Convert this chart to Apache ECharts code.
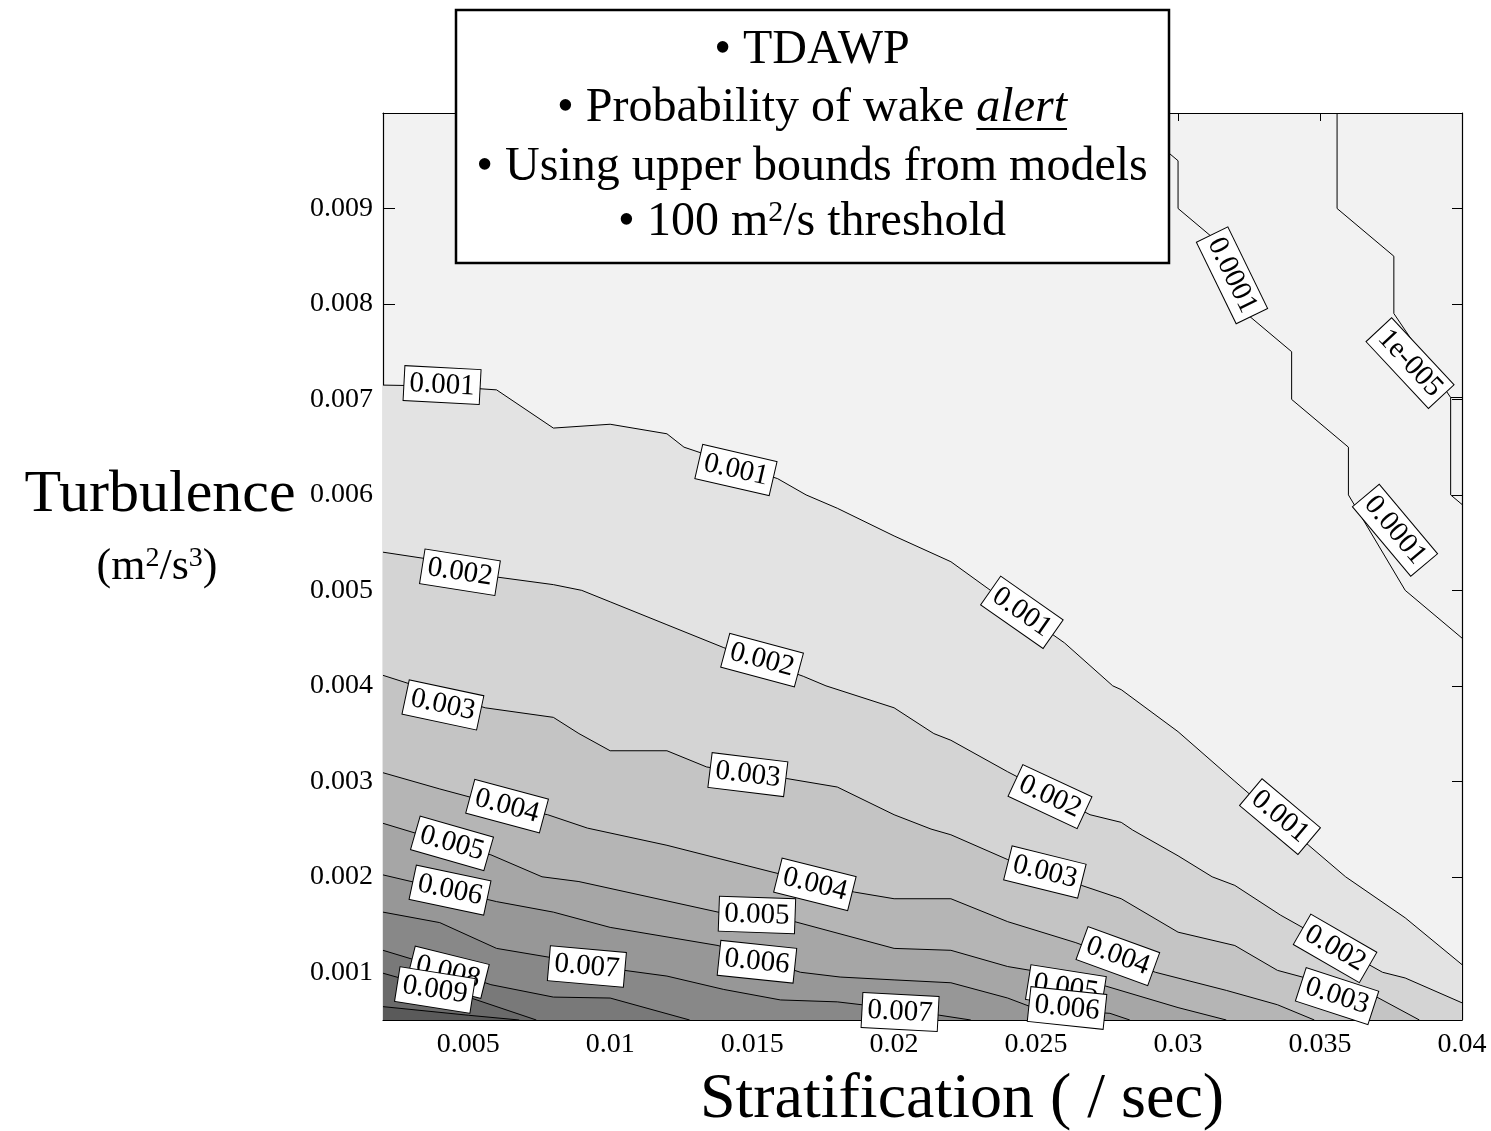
<!DOCTYPE html>
<html><head><meta charset="utf-8">
<script src="https://cdn.jsdelivr.net/npm/echarts@6/dist/echarts.min.js"></script>
<style>html,body{margin:0;padding:0;background:#fff}#c{width:1491px;height:1131px}</style>
</head><body><div id="c"></div>
<script>
// ---------- DATA ----------
const xRange = [0.002, 0.04];
const yRange = [0.0005, 0.01];
const xTickValues = [0.005, 0.01, 0.015, 0.02, 0.025, 0.03, 0.035, 0.04];
const xTickLabels = ['0.005', '0.01', '0.015', '0.02', '0.025', '0.03', '0.035', '0.04'];
const yTickValues = [0.001, 0.002, 0.003, 0.004, 0.005, 0.006, 0.007, 0.008, 0.009];
const yTickLabels = ['0.001', '0.002', '0.003', '0.004', '0.005', '0.006', '0.007', '0.008', '0.009'];

// contour lines [stratification, turbulence]
const contour_0_001 = [[0.002,0.00715],[0.004,0.00714],[0.006,0.0071],[0.008,0.0067],[0.010,0.00674],[0.012,0.00664],[0.0126,0.0065],[0.0159,0.00617],[0.0169,0.0060],[0.018,0.00586],[0.020,0.00557],[0.022,0.0053],[0.024,0.00487],[0.026,0.00445],[0.0277,0.0040],[0.028,0.00396],[0.030,0.00352],[0.032,0.0030],[0.0346,0.00233],[0.0359,0.0020],[0.038,0.00157],[0.040,0.00108]];
const contour_0_002 = [[0.002,0.0054],[0.004,0.00531],[0.006,0.00514],[0.008,0.00506],[0.009,0.0050],[0.010,0.00488],[0.012,0.00464],[0.014,0.0044],[0.0168,0.0041],[0.0176,0.0040],[0.020,0.00377],[0.0214,0.0035],[0.022,0.00343],[0.024,0.0031],[0.0269,0.00265],[0.028,0.00257],[0.0284,0.00249],[0.030,0.00222],[0.0312,0.0020],[0.032,0.00191],[0.0336,0.0016],[0.036,0.0012],[0.0372,0.001],[0.038,0.00094],[0.040,0.00068]];
const contour_0_003 = [[0.002,0.00411],[0.004,0.00392],[0.0056,0.00377],[0.008,0.00367],[0.0089,0.0035],[0.010,0.00332],[0.012,0.00332],[0.0134,0.00315],[0.0162,0.00303],[0.018,0.00294],[0.020,0.00265],[0.0213,0.0025],[0.022,0.00244],[0.024,0.00218],[0.0266,0.00191],[0.028,0.00177],[0.030,0.00142],[0.032,0.00128],[0.0335,0.00102],[0.037,0.00074],[0.0385,0.0005]];
const contour_0_004 = [[0.002,0.00309],[0.004,0.00292],[0.006,0.00276],[0.0078,0.00265],[0.0092,0.00251],[0.012,0.00233],[0.0157,0.00205],[0.0186,0.00184],[0.020,0.00177],[0.022,0.00177],[0.024,0.00153],[0.0264,0.00131],[0.0292,0.0010],[0.0317,0.00081],[0.0335,0.00066],[0.0348,0.0005]];
const contour_0_005 = [[0.002,0.00256],[0.004,0.00238],[0.0058,0.00223],[0.0076,0.0020],[0.0089,0.00195],[0.0138,0.00163],[0.0165,0.00153],[0.020,0.00125],[0.022,0.00123],[0.024,0.00106],[0.0252,0.0010],[0.0274,0.00086],[0.030,0.00063],[0.0317,0.0005]];
const contour_0_006 = [[0.002,0.00202],[0.004,0.00188],[0.006,0.00174],[0.008,0.00163],[0.010,0.00147],[0.0138,0.00128],[0.0167,0.0010],[0.0181,0.00095],[0.020,0.00092],[0.022,0.00089],[0.024,0.00073],[0.0248,0.00064],[0.026,0.0006],[0.0276,0.00057],[0.0283,0.0005]];
const contour_0_007 = [[0.002,0.00163],[0.004,0.00152],[0.006,0.00125],[0.008,0.00115],[0.010,0.00104],[0.012,0.00096],[0.014,0.00082],[0.016,0.00071],[0.018,0.00069],[0.020,0.00062],[0.0216,0.00055],[0.0227,0.0005]];
const contour_0_008 = [[0.002,0.00123],[0.004,0.00105],[0.0058,0.00087],[0.008,0.00074],[0.010,0.00073],[0.0128,0.0005]];
const contour_0_009 = [[0.002,0.00099],[0.0051,0.00073],[0.0074,0.0005]];
const contour_0_010 = [[0.002,0.00064],[0.005,0.00055],[0.0068,0.0005]];
const contour_0_0001 = [[0.028,0.010],[0.030,0.0095],[0.030,0.009],[0.032,0.0085],[0.032,0.008],[0.034,0.0075],[0.034,0.007],[0.036,0.0065],[0.036,0.006],[0.038,0.005],[0.040,0.0045]];
const contour_1e_5 = [[0.0356,0.010],[0.0356,0.009],[0.0376,0.0085],[0.0376,0.0079],[0.0396,0.00702],[0.040,0.00702]];
const contour_1e_5_b = [[0.0396,0.00702],[0.0396,0.0060],[0.040,0.0059]];

// contour labels
const labelText  = ['0.001','0.001','0.001','0.001','0.002','0.002','0.002','0.002','0.003','0.003','0.003','0.003','0.004','0.004','0.004','0.005','0.005','0.005','0.006','0.006','0.006','0.007','0.007','0.008','0.009','0.0001','0.0001','1e-005'];
const labelX     = [0.00408,0.01443,0.0245,0.03359,0.00471,0.01535,0.02549,0.03553,0.00411,0.01485,0.02531,0.0356,0.00637,0.01721,0.02788,0.00443,0.01517,0.02605,0.00436,0.01517,0.02609,0.00918,0.02021,0.00429,0.00383,0.0319,0.03764,0.03817];
const labelY     = [0.00715,0.00626,0.00477,0.00263,0.00519,0.00427,0.00284,0.00125,0.0038,0.00307,0.00205,0.00075,0.00274,0.00192,0.00117,0.00235,0.0016,0.000835,0.00186,0.00111,0.000626,0.00106,0.000584,0.001,0.000814,0.0083,0.00563,0.00738];
const labelAngle = [-3,-13,-35,-40,-9,-15,-25,-30,-12,-7,-14,-18,-15,-14,-20,-16,-2,-9,-12,-6,-6,-5,-3,-14,-9,-64,-50,-47];

// ---------- STYLE ----------
const FONT = 'Liberation Serif';
const filled = [
  [contour_0_001, '#e3e3e3'],
  [contour_0_002, '#d4d4d4'],
  [contour_0_003, '#c4c4c4'],
  [contour_0_004, '#b5b5b5'],
  [contour_0_005, '#a6a6a6'],
  [contour_0_006, '#979797'],
  [contour_0_007, '#888888'],
  [contour_0_008, '#797979'],
  [contour_0_009, '#6a6a6a'],
  [contour_0_010, '#5a5a5a']
];
const series = [];
filled.forEach(([d, col]) => {
  series.push({type:'line', data:d, symbol:'none', silent:true, z:2,
    lineStyle:{color:'#000', width:1},
    areaStyle:{color:col, opacity:1, origin:'start'}});
});
[contour_0_0001, contour_1e_5, contour_1e_5_b].forEach(d => {
  series.push({type:'line', data:d, symbol:'none', silent:true, z:3,
    lineStyle:{color:'#000', width:1}});
});
series.push({
  type:'scatter', z:5, symbolSize:2, itemStyle:{color:'rgba(0,0,0,0)'}, silent:true, clip:false,
  data: labelText.map((t,i) => ({value:[labelX[i], labelY[i]],
    label:{formatter:t, rotate:labelAngle[i]}})),
  label:{show:true, position:'inside', color:'#000', fontFamily:FONT, fontSize:29, opacity:1,
    backgroundColor:'#fff', borderColor:'#000', borderWidth:1, padding:[4,5,1,5]},
  labelLayout:{hideOverlap:false}
});

function fmt(values, labels){
  return v => { let bi=0, bd=1e9; values.forEach((u,i)=>{const d=Math.abs(u-v); if(d<bd){bd=d;bi=i;}}); return labels[bi]; };
}
const axisCommon = {type:'value', splitLine:{show:false},
  axisLine:{show:true, onZero:false, lineStyle:{color:'#000', width:1.2}}};

// underline position for "alert"
const TS = 48;
const cv = document.createElement('canvas').getContext('2d');
cv.font = TS + 'px "' + FONT + '"';
const w1 = cv.measureText('• Probability of wake ').width;
cv.font = 'italic ' + TS + 'px "' + FONT + '"';
const w2 = cv.measureText('alert').width;
const titleCX = 812;
const ulStart = titleCX - (w1 + w2) / 2 + w1;
const tfont = TS + 'px "' + FONT + '"';

const option = {
  animation:false,
  backgroundColor:'#fff',
  textStyle:{fontFamily:FONT},
  grid:{left:383, right:29, top:113, bottom:111, show:true, backgroundColor:'#f2f2f2', borderWidth:0},
  xAxis:[
    Object.assign({}, axisCommon, {min:xRange[0], max:xRange[1], position:'bottom',
      axisTick:{show:true, inside:true, length:12, customValues:xTickValues, lineStyle:{color:'#000'}},
      axisLabel:{show:true, customValues:xTickValues, formatter:fmt(xTickValues,xTickLabels), color:'#000', fontSize:28, fontFamily:FONT, margin:11}}),
    Object.assign({}, axisCommon, {min:xRange[0], max:xRange[1], position:'top',
      axisTick:{show:true, inside:true, length:8, customValues:xTickValues, lineStyle:{color:'#000'}},
      axisLabel:{show:false}})
  ],
  yAxis:[
    Object.assign({}, axisCommon, {min:yRange[0], max:yRange[1], position:'left',
      axisTick:{show:true, inside:true, length:12, customValues:yTickValues, lineStyle:{color:'#000'}},
      axisLabel:{show:true, customValues:yTickValues, formatter:fmt(yTickValues,yTickLabels), color:'#000', fontSize:28, fontFamily:FONT, margin:10}}),
    Object.assign({}, axisCommon, {min:yRange[0], max:yRange[1], position:'right',
      axisTick:{show:true, inside:true, length:10, customValues:yTickValues, lineStyle:{color:'#000'}},
      axisLabel:{show:false}})
  ],
  series: series,
  graphic:[
    {type:'rect', z:100, shape:{x:456, y:10, width:713, height:253},
      style:{fill:'#fff', stroke:'#000', lineWidth:2.5}},
    {type:'text', z:101, x:titleCX, y:50, style:{text:'• TDAWP', font:tfont, fill:'#000', align:'center', verticalAlign:'middle'}},
    {type:'text', z:101, x:titleCX, y:108, style:{text:'• Probability of wake {i|alert}', font:tfont, fill:'#000', align:'center', verticalAlign:'middle',
      rich:{i:{fontStyle:'italic', fontSize:TS, fontFamily:FONT, fill:'#000'}}}},
    {type:'line', z:101, shape:{x1:ulStart, y1:129, x2:ulStart + w2, y2:129}, style:{stroke:'#000', lineWidth:2}},
    {type:'text', z:101, x:titleCX, y:167, style:{text:'• Using upper bounds from models', font:tfont, fill:'#000', align:'center', verticalAlign:'middle'}},
    {type:'text', z:101, x:titleCX, y:222, style:{text:'• 100 m{s|2}/s threshold', font:tfont, fill:'#000', align:'center', verticalAlign:'middle',
      rich:{s:{fontSize:30, fontFamily:FONT, verticalAlign:'top', fill:'#000'}}}},
    {type:'text', z:101, x:160, y:495, style:{text:'Turbulence', font:'60px "'+FONT+'"', fill:'#000', align:'center', verticalAlign:'middle'}},
    {type:'text', z:101, x:157, y:567, style:{text:'(m{s|2}/s{s|3})', font:'44px "'+FONT+'"', fill:'#000', align:'center', verticalAlign:'middle',
      rich:{s:{fontSize:28, fontFamily:FONT, verticalAlign:'top', fill:'#000'}}}},
    {type:'text', z:101, x:962, y:1100, style:{text:'Stratification ( / sec)', font:'64px "'+FONT+'"', fill:'#000', align:'center', verticalAlign:'middle'}}
  ]
};
const chart = echarts.init(document.getElementById('c'), null, {renderer:'canvas'});
chart.setOption(option);
</script></body></html>
